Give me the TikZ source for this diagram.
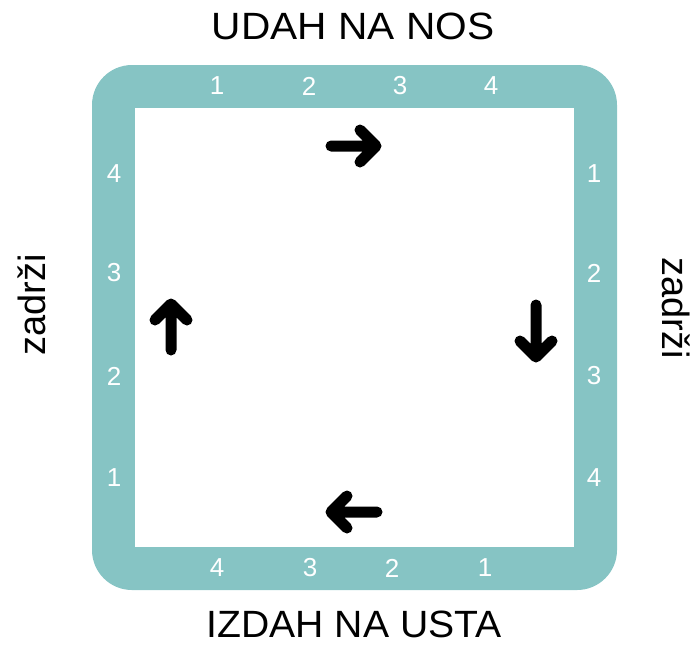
\documentclass[tikz,border=0pt]{standalone}
\usepackage{fontspec}
\setmainfont{Liberation Sans}
\usepackage[svgnames, dvipsnames]{xcolor}
\usetikzlibrary{calc, arrows.meta}
\definecolor{Frame}{RGB}{134,196,196}
\tikzset{>=latex}
\tikzset{
  num/.style={text=white, font=\fontsize{26}{30}\selectfont, inner sep=0pt},
  heading/.style={font=\fontsize{38}{44}\selectfont, inner sep=0pt},
  bigarrow/.style={line width=11pt, line cap=round, line join=round}}

\begin{document}
\begin{tikzpicture}[x=1pt, y=-1pt]
\useasboundingbox (0,0) rectangle (692,646);
% frame
\fill[Frame, rounded corners=40pt] (92,65) rectangle (617,590);
\fill[white] (135,108) rectangle (574,547);
% counts
\foreach \x [count=\i] in {217,309,400,491}
  \node[num] (top\i) at (\x,86) {\i};
\foreach \y [count=\i] in {174,273,376,478}
  \node[num] (right\i) at (594,\y) {\i};
\foreach \x [count=\i] in {485,392,310,217}
  \node[num] (bottom\i) at (\x,568) {\i};
\foreach \y [count=\i] in {478,376,273,174}
  \node[num] (left\i) at (114,\y) {\i};
% labels
\node[heading, anchor=base, xscale=1.07, transform shape] (inhale) at (353,39) {UDAH NA NOS};
\node[heading, anchor=base, xscale=1.03, transform shape] (exhale) at (354,637) {IZDAH NA USTA};
\node[heading, anchor=base, rotate=90] (holdl) at (45,305) {zadrži};
\node[heading, anchor=base, rotate=-90] (holdr) at (662,308) {zadrži};
% arrows
\draw[bigarrow] (331,146) -- (376,146) (360,130) -- (376,146) -- (360,162);
\draw[bigarrow] (536,305) -- (536,357) (520,341) -- (536,357) -- (552,341);
\draw[bigarrow] (377,512) -- (331,512) (347,496) -- (331,512) -- (347,528);
\draw[bigarrow] (171,350) -- (171,304) (155,320) -- (171,304) -- (187,320);
\end{tikzpicture}
\end{document}
